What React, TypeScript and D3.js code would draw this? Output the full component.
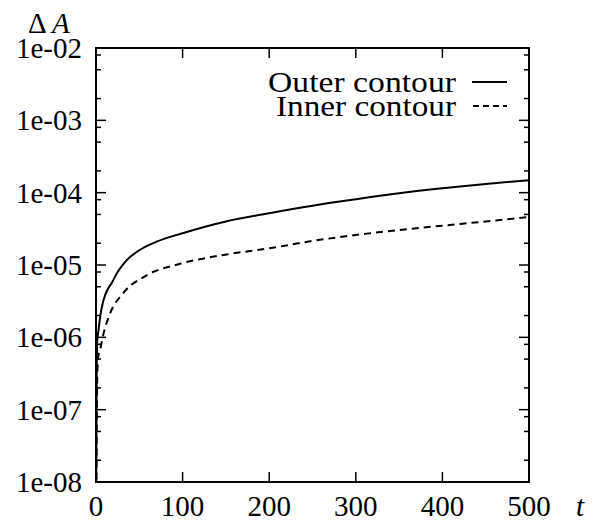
import React from "react";
import * as d3 from "d3";

const xTicks = [0, 100, 200, 300, 400, 500];
const yTicks = [1e-8, 1e-7, 1e-6, 1e-5, 1e-4, 1e-3, 1e-2];
const yTickLabels = ["1e-08", "1e-07", "1e-06", "1e-05", "1e-04", "1e-03", "1e-02"];
const minorMults = [2, 5, 8];

const tOuter = [0.2, 0.8, 1.5, 2.7, 5, 8.5, 13, 18, 25, 35, 50, 70, 100, 150, 200, 250, 300, 350, 400, 450, 500];
const outerVals = [5e-9, 3e-7, 9.4e-7, 1.2e-6, 2.0e-6, 3.2e-6, 4.5e-6, 5.6e-6, 8.0e-6, 1.15e-5, 1.6e-5, 2.1e-5, 2.75e-5, 4.0e-5, 5.2e-5, 6.6e-5, 8.1e-5, 9.8e-5, 1.15e-4, 1.32e-4, 1.49e-4];

const tInner = [0.3, 1.5, 2.6, 4.6, 8.5, 16, 31.5, 58.5, 97, 151, 200, 250, 300, 350, 400, 450, 500];
const innerVals = [5e-9, 3e-7, 5.4e-7, 6.6e-7, 1.1e-6, 2.1e-6, 4.1e-6, 7.2e-6, 1.04e-5, 1.4e-5, 1.7e-5, 2.15e-5, 2.6e-5, 3.05e-5, 3.5e-5, 4.0e-5, 4.6e-5];

const legendLabels = ["Outer contour", "Inner contour"];

const W = 603;
const H = 521;
const L = 96, R = 529, T = 48, B = 482;
const FONT = "Liberation Serif";
const FS = 29;

function Txt(props: any) {
  const { children, ...rest } = props;
  return (
    <text fontFamily={FONT} fontSize={FS} fill="#000" style={{ fontFamily: FONT }} {...rest}>
      {children}
    </text>
  );
}

export default function App() {
  const x = d3.scaleLinear().domain([0, 500]).range([L, R]);
  const y = d3.scaleLog().domain([1e-8, 1e-2]).range([B, T]);
  const clampY = (v: number) => Math.max(v, 1e-9);
  const line = d3
    .line<[number, number]>()
    .x((d) => x(d[0]))
    .y((d) => y(clampY(d[1])))
    .curve(d3.curveMonotoneX);
  const outerPath = line(tOuter.map((t, i) => [t, outerVals[i]] as [number, number])) || "";
  const innerPath = line(tInner.map((t, i) => [t, innerVals[i]] as [number, number])) || "";

  const minorTicks: number[] = [];
  for (let e = -8; e < -2; e++) {
    for (const m of minorMults) minorTicks.push(m * Math.pow(10, e));
  }

  return (
    <svg width={W} height={H} style={{ position: "absolute", left: 0, top: 0, background: "#fff" }}>
      <defs>
        <clipPath id="plot">
          <rect x={L} y={T} width={R - L} height={B - T} />
        </clipPath>
      </defs>
      <rect x={0} y={0} width={W} height={H} fill="#fff" />
      <g clipPath="url(#plot)" fill="none" stroke="#000" strokeWidth={2}>
        <path d={outerPath} />
        <path d={innerPath} strokeDasharray="7,5" />
      </g>
      <rect x={L} y={T} width={R - L} height={B - T} fill="none" stroke="#000" strokeWidth={2} />
      {xTicks.map((t) => (
        <g key={"xt" + t} stroke="#000" strokeWidth={1.5}>
          <line x1={x(t)} x2={x(t)} y1={B} y2={B - 10} />
          <line x1={x(t)} x2={x(t)} y1={T} y2={T + 10} />
        </g>
      ))}
      {yTicks.map((v) => (
        <g key={"yt" + v} stroke="#000" strokeWidth={1.5}>
          <line x1={L} x2={L + 10} y1={y(v)} y2={y(v)} />
          <line x1={R} x2={R - 10} y1={y(v)} y2={y(v)} />
        </g>
      ))}
      {minorTicks.map((v) => (
        <g key={"ym" + v} stroke="#000" strokeWidth={1.5}>
          <line x1={L} x2={L + 5} y1={y(v)} y2={y(v)} />
          <line x1={R} x2={R - 5} y1={y(v)} y2={y(v)} />
        </g>
      ))}
      {xTicks.map((t) => (
        <Txt key={"xl" + t} x={x(t)} y={516} textAnchor="middle">
          {String(t)}
        </Txt>
      ))}
      {yTicks.map((v, i) => (
        <Txt key={"yl" + v} x={82} y={y(v) + 10} textAnchor="end">
          {yTickLabels[i]}
        </Txt>
      ))}
      <Txt x={576} y={516} fontStyle="italic">t</Txt>
      <Txt x={28} y={33}>Δ</Txt>
      <Txt x={52} y={33} fontStyle="italic">A</Txt>
      <Txt x={456} y={92} textAnchor="end" textLength={188} lengthAdjust="spacingAndGlyphs">{legendLabels[0]}</Txt>
      <Txt x={456} y={116} textAnchor="end" textLength={180} lengthAdjust="spacingAndGlyphs">{legendLabels[1]}</Txt>
      <line x1={472} x2={507} y1={82} y2={82} stroke="#000" strokeWidth={2} />
      <line x1={473} x2={507} y1={106} y2={106} stroke="#000" strokeWidth={2} strokeDasharray="6,4" />
    </svg>
  );
}
